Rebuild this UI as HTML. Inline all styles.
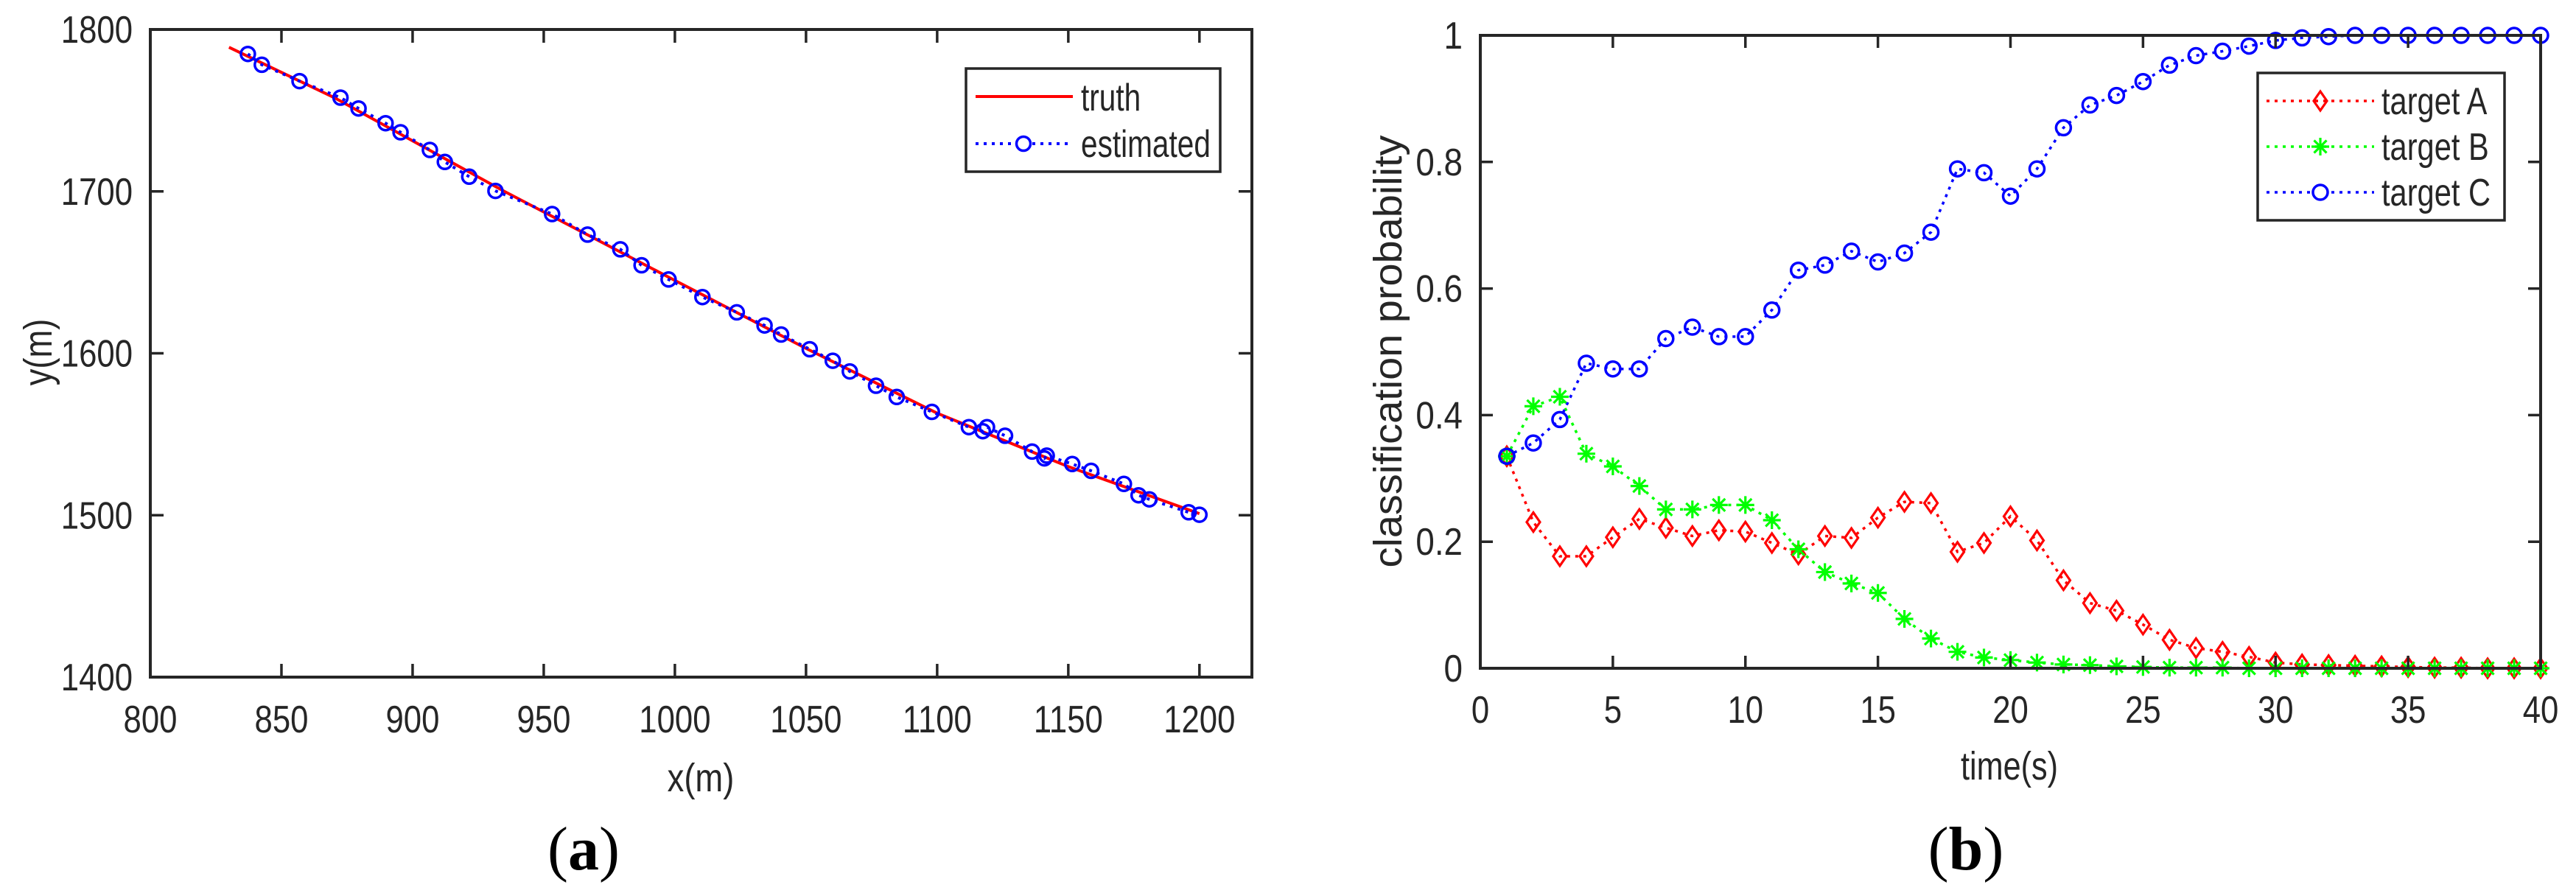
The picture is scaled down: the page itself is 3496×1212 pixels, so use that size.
<!DOCTYPE html>
<html><head><meta charset="utf-8">
<style>
html,body{margin:0;padding:0;background:#fff;}
svg{display:block;}
text{font-family:"Liberation Sans",Arial,sans-serif;fill:#262626;}
</style></head>
<body>
<svg id="fig" width="3496" height="1212" viewBox="0 0 3496 1212" xmlns="http://www.w3.org/2000/svg"></svg>
<script>
// ---- Panel (a) data ----
const truthX = [830, 870, 935, 1000, 1050, 1100, 1150, 1200];
const truthY = [1789, 1758, 1700, 1645, 1603, 1563, 1530, 1501];
const estX = [837.2,842.5,856.9,872.5,879.4,889.7,895.4,906.6,912.3,921.6,931.6,953.2,966.7,979.2,987.3,997.6,1010.5,1023.6,1034.2,1040.5,1051.4,1060.2,1066.7,1076.7,1084.6,1098.0,1112.1,1117.4,1119.0,1125.9,1136.2,1140.9,1141.8,1151.5,1158.7,1171.2,1176.8,1180.9,1195.9,1200];
const estY = [1784.9,1778.2,1768.1,1757.9,1751.2,1742.1,1736.5,1725.6,1718.2,1709.1,1700.3,1686.0,1673.3,1664.2,1654.4,1645.6,1634.7,1625.3,1617.2,1611.6,1602.5,1595.4,1588.8,1580.0,1573.0,1563.8,1554.4,1551.9,1554.4,1549.1,1539.3,1535.1,1536.8,1531.6,1527.4,1519.3,1512.3,1509.8,1501.8,1500.3];
const aXTicks = [800,850,900,950,1000,1050,1100,1150,1200];
const aYTicks = [1400,1500,1600,1700,1800];
// ---- Panel (b) data ----
const timeSteps = [1,2,3,4,5,6,7,8,9,10,11,12,13,14,15,16,17,18,19,20,21,22,23,24,25,26,27,28,29,30,31,32,33,34,35,36,37,38,39,40];
const probA = [0.335,0.231,0.177,0.177,0.207,0.236,0.222,0.209,0.218,0.216,0.198,0.180,0.209,0.206,0.238,0.263,0.261,0.184,0.198,0.240,0.202,0.139,0.103,0.091,0.069,0.045,0.032,0.026,0.018,0.009,0.006,0.005,0.004,0.003,0.002,0.001,0.001,0,0,0];
const probB = [0.335,0.414,0.429,0.339,0.319,0.288,0.251,0.251,0.258,0.258,0.234,0.188,0.152,0.134,0.119,0.078,0.047,0.026,0.017,0.013,0.009,0.006,0.005,0.003,0.002,0.001,0.001,0.001,0,0,0,0,0,0,0,0,0,0,0,0];
const probC = [0.335,0.356,0.393,0.482,0.473,0.473,0.521,0.539,0.524,0.524,0.566,0.629,0.637,0.659,0.642,0.656,0.689,0.789,0.783,0.746,0.789,0.854,0.890,0.905,0.927,0.953,0.968,0.975,0.983,0.992,0.996,0.998,1,1,1,1,1,1,1,1];
const bXTicks = [0,5,10,15,20,25,30,35,40];
const bYTicks = [0,0.2,0.4,0.6,0.8,1];
const bYLabels = ["0","0.2","0.4","0.6","0.8","1"];

const NS = "http://www.w3.org/2000/svg";
const svg = document.getElementById('fig');
function mk(tag, attrs, parent){
  const e = document.createElementNS(NS, tag);
  for (const k in attrs) e.setAttribute(k, attrs[k]);
  (parent||svg).appendChild(e);
  return e;
}
function txt(s, x, y, size, anchor, squeeze, parent){
  const t = mk('text', {x:x, y:y, 'font-size':size, 'text-anchor':anchor}, parent);
  t.textContent = s;
  if (squeeze && squeeze !== 1) {
    const w = t.getComputedTextLength();
    t.setAttribute('textLength', (w*squeeze).toFixed(1));
    t.setAttribute('lengthAdjust', 'spacingAndGlyphs');
  }
  return t;
}
const AX = '#262626';
const SQ = 0.84;

// ================= Panel (a) =================
const aL=204, aR=1699, aT=40, aB=919;
const ax = v => aL + (v-800)*(aR-aL)/420;
const ay = v => aB - (v-1400)*(aB-aT)/400;
const gA = mk('g', {});



// truth line
let d = truthX.map((v,i)=>(i?'L':'M')+ax(v).toFixed(1)+','+ay(truthY[i]).toFixed(1)).join(' ');
const tl = mk('path', {d:d, fill:'none', stroke:'#ff0000', 'stroke-width':4}, gA);


// estimated dotted line
d = estX.map((v,i)=>(i?'L':'M')+ax(v).toFixed(1)+','+ay(estY[i]).toFixed(1)).join(' ');
const el1 = mk('path', {d:d, fill:'none', stroke:'#0000ff', 'stroke-width':4, 'stroke-dasharray':'4 7'}, gA);


estX.forEach((v,i)=>{
  const c = mk('circle', {cx:ax(v).toFixed(1), cy:ay(estY[i]).toFixed(1), r:9.5, fill:'none', stroke:'#0000ff', 'stroke-width':3.5}, gA);
  
  
});
// axes box
const boxA = mk('rect', {x:aL, y:aT, width:aR-aL, height:aB-aT, fill:'none', stroke:AX, 'stroke-width':4}, gA);


aXTicks.forEach(v=>{
  const x = ax(v);
  mk('line', {x1:x, y1:aB, x2:x, y2:aB-18, stroke:AX, 'stroke-width':3.5}, gA);
  mk('line', {x1:x, y1:aT, x2:x, y2:aT+18, stroke:AX, 'stroke-width':3.5}, gA);
  const t = txt(String(v), x, 994, 52, 'middle', SQ, gA);
  
  
});
aYTicks.forEach(v=>{
  const y = ay(v);
  mk('line', {x1:aL, y1:y, x2:aL+18, y2:y, stroke:AX, 'stroke-width':3.5}, gA);
  mk('line', {x1:aR, y1:y, x2:aR-18, y2:y, stroke:AX, 'stroke-width':3.5}, gA);
  const t = txt(String(v), 180, y+18, 52, 'end', SQ, gA);
  
  
});
const xtA = txt('x(m)', 951, 1074, 54, 'middle', SQ, gA);


const ytA = txt('y(m)', 0, 0, 54, 'middle', SQ, gA);
ytA.setAttribute('transform', 'translate(70,478) rotate(-90)');


// legend a
const lgA = mk('g', {}, gA);


mk('rect', {x:1311, y:93, width:345, height:140, fill:'#fff', stroke:AX, 'stroke-width':3.5}, lgA);
mk('line', {x1:1324, y1:131, x2:1456, y2:131, stroke:'#ff0000', 'stroke-width':4}, lgA);
mk('line', {x1:1324, y1:195, x2:1456, y2:195, stroke:'#0000ff', 'stroke-width':4, 'stroke-dasharray':'4 7'}, lgA);
mk('circle', {cx:1389, cy:195, r:9.5, fill:'#fff', stroke:'#0000ff', 'stroke-width':3.5}, lgA);
const le1 = txt('truth', 1467, 150, 52, 'start', 0.78, lgA);


const le2 = txt('estimated', 1467, 213, 52, 'start', 0.78, lgA);


const pa = mk('text', {x:792, y:1180, 'font-size':84, 'text-anchor':'middle', style:'font-family:"Liberation Serif",serif;fill:#000'});
pa.innerHTML = '(<tspan font-weight="bold">a</tspan>)';



// ================= Panel (b) =================
const bL=2009, bR=3448, bT=48, bB=907;
const bx = v => bL + v*(bR-bL)/40;
const by = v => bB - v*(bB-bT);
const gB = mk('g', {});



function series(vals, color, name){
  const p = timeSteps.map((t,i)=>(i?'L':'M')+bx(t).toFixed(1)+','+by(vals[i]).toFixed(1)).join(' ');
  const ln = mk('path', {d:p, fill:'none', stroke:color, 'stroke-width':3.5, 'stroke-dasharray':'4 7'}, gB);
  
  
}
function diamond(x,y,parent,color){
  return mk('path', {d:`M${x},${y-13} L${x+9},${y} L${x},${y+13} L${x-9},${y} Z`, fill:'none', stroke:color, 'stroke-width':3.2}, parent);
}
function star(x,y,parent,color){
  const g = mk('g', {stroke:color, 'stroke-width':3.2}, parent);
  const r=12, q=8.5;
  mk('line', {x1:x-r, y1:y, x2:x+r, y2:y}, g);
  mk('line', {x1:x, y1:y-r, x2:x, y2:y+r}, g);
  mk('line', {x1:x-q, y1:y-q, x2:x+q, y2:y+q}, g);
  mk('line', {x1:x-q, y1:y+q, x2:x+q, y2:y-q}, g);
  return g;
}
series(probA, '#ff0000', 'target-a');
series(probB, '#00ff00', 'target-b');
series(probC, '#0000ff', 'target-c');
timeSteps.forEach((t,i)=>{
  const m = diamond(bx(t), by(probA[i]), gB, '#ff0000');
  
  
});
timeSteps.forEach((t,i)=>{
  const m = star(bx(t), by(probB[i]), gB, '#00ff00');
  
  
});
timeSteps.forEach((t,i)=>{
  const m = mk('circle', {cx:bx(t).toFixed(1), cy:by(probC[i]).toFixed(1), r:10, fill:'none', stroke:'#0000ff', 'stroke-width':3.5}, gB);
  
  
});
const boxB = mk('rect', {x:bL, y:bT, width:bR-bL, height:bB-bT, fill:'none', stroke:AX, 'stroke-width':4}, gB);


bXTicks.forEach(v=>{
  const x = bx(v);
  mk('line', {x1:x, y1:bB, x2:x, y2:bB-17, stroke:AX, 'stroke-width':3.5}, gB);
  mk('line', {x1:x, y1:bT, x2:x, y2:bT+17, stroke:AX, 'stroke-width':3.5}, gB);
  const t = txt(String(v), x, 981, 52, 'middle', SQ, gB);
  
  
});
bYTicks.forEach((v,i)=>{
  const y = by(v);
  mk('line', {x1:bL, y1:y, x2:bL+17, y2:y, stroke:AX, 'stroke-width':3.5}, gB);
  mk('line', {x1:bR, y1:y, x2:bR-17, y2:y, stroke:AX, 'stroke-width':3.5}, gB);
  const t = txt(bYLabels[i], 1985, y+18, 52, 'end', 0.88, gB);
  
  
});
const xtB = txt('time(s)', 2727, 1058, 54, 'middle', 0.8, gB);


const ytB = mk('text', {x:0, y:0, 'font-size':54, 'text-anchor':'middle', transform:'translate(1902,477) rotate(-90)', 'textLength':587, 'lengthAdjust':'spacingAndGlyphs', 'xml:space':'preserve'}, gB);
ytB.textContent = 'classification  probability';


// legend b
const lgB = mk('g', {}, gB);


mk('rect', {x:3064, y:99, width:335, height:200, fill:'#fff', stroke:AX, 'stroke-width':3.5}, lgB);
const legY = [137, 199, 261];
const legC = ['#ff0000','#00ff00','#0000ff'];
const legT = ['target A','target B','target C'];
legY.forEach((y,i)=>{
  mk('line', {x1:3076, y1:y, x2:3222, y2:y, stroke:legC[i], 'stroke-width':3.5, 'stroke-dasharray':'4 7'}, lgB);
});
diamond(3149, 137, lgB, '#ff0000');
star(3149, 199, lgB, '#00ff00');
mk('circle', {cx:3149, cy:261, r:10, fill:'#fff', stroke:'#0000ff', 'stroke-width':3.5}, lgB);
legT.forEach((s,i)=>{
  const t = txt(s, 3232, legY[i]+18, 52, 'start', 0.8, lgB);
  
  
});
const pb = mk('text', {x:2668, y:1180, 'font-size':84, 'text-anchor':'middle', style:'font-family:"Liberation Serif",serif;fill:#000'});
pb.innerHTML = '(<tspan font-weight="bold">b</tspan>)';


</script>
</body></html>
